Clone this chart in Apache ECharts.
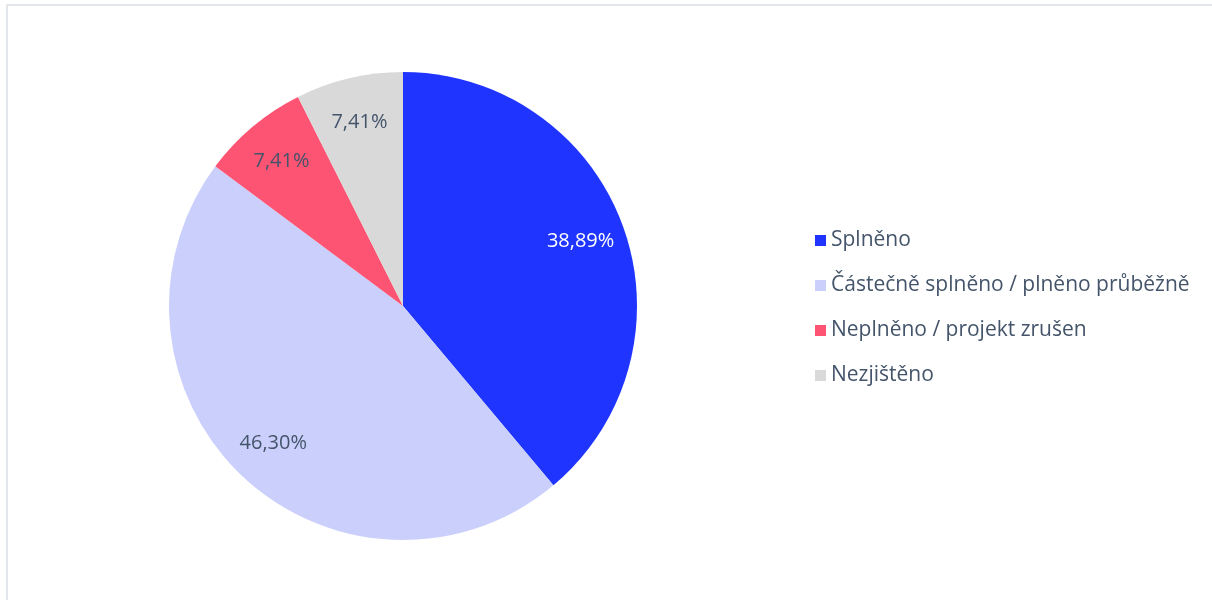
<!DOCTYPE html>
<html>
<head>
<meta charset="utf-8">
<script src="https://cdn.jsdelivr.net/npm/echarts@6/dist/echarts.min.js"></script>
<style>
    html, body { margin: 0; padding: 0; background: #fff; }
    #frame {
        position: absolute; left: 6px; top: 4px; width: 1220px; height: 610px;
        border-top: 2px solid #e3e6eb; border-left: 2px solid #e3e6eb;
    }
    #chart { position: absolute; left: 0; top: 0; width: 1212px; height: 600px; }
</style>
</head>
<body>
<div id="frame"></div>
<div id="chart"></div>
<script>
// kategorie a hodnoty (počty projektů)
const categories = ["Splněno", "Částečně splněno / plněno průběžně", "Neplněno / projekt zrušen", "Nezjištěno"];
const counts = [21, 25, 4, 4];
const colors = ["#1f35ff", "#cacffc", "#fe5473", "#d9d9d9"];
const labelColors = ["#ffffff", "#44546a", "#44546a", "#44546a"];

const fontFamily = "'Open Sans', 'Noto Sans', sans-serif";
const total = counts.reduce((a, b) => a + b, 0);

let pieData = categories.map((name, i) => ({
    name: name,
    value: counts[i],
    itemStyle: { color: colors[i] }
}));

let labelData = categories.map((name, i) => ({
    name: name,
    value: counts[i],
    label: { color: labelColors[i] }
}));

let myChart = echarts.init(document.getElementById("chart"));
myChart.setOption({
    animation: false,
    legend: {
        orient: "vertical",
        left: 810,
        top: 225,
        icon: "rect",
        itemWidth: 11,
        itemHeight: 11,
        itemGap: 24,
        data: categories,
        textStyle: { color: "#44546a", fontSize: 21, fontFamily: fontFamily }
    },
    series: [
        {
            type: "pie",
            center: [403, 306],
            radius: [0, 234],
            startAngle: 90,
            clockwise: true,
            label: { show: false },
            labelLine: { show: false },
            emphasis: { disabled: true },
            data: pieData
        },
        {
            // jen popisky, posunuté k okraji výseče
            type: "pie",
            center: [403, 306],
            radius: [138, 234],
            startAngle: 90,
            clockwise: true,
            silent: true,
            itemStyle: { color: "rgba(0,0,0,0)" },
            label: {
                show: true,
                position: "inside",
                fontSize: 20,
                fontFamily: fontFamily,
                formatter: p => (p.value / total * 100).toFixed(2).replace(".", ",") + "%"
            },
            labelLine: { show: false },
            emphasis: { disabled: true },
            data: labelData
        }
    ]
});
</script>
</body>
</html>
